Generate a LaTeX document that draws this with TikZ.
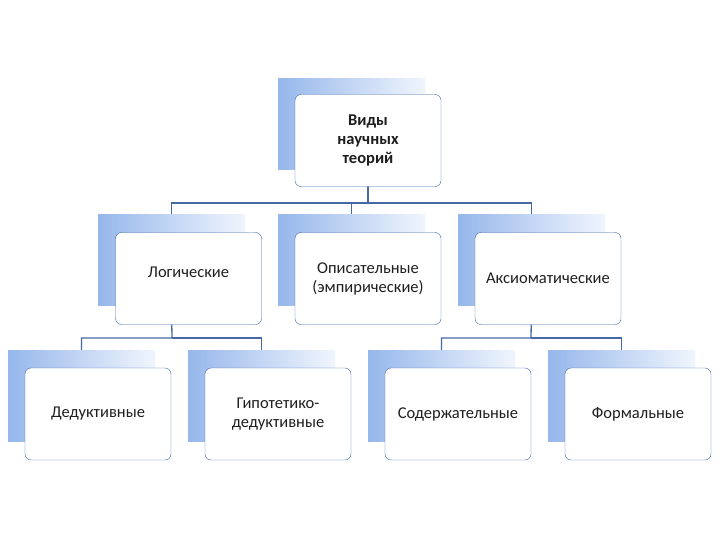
\documentclass[tikz,border=0pt]{standalone}
\usepackage{fontspec}
\setmainfont{Carlito}
\begin{document}
\begin{tikzpicture}[x=1pt,y=-1pt,
 back/.style={minimum width=147pt,minimum height=91pt,inner sep=0pt,draw=none,left color={rgb,255:red,150;green,183;blue,235},right color={rgb,255:red,240;green,245;blue,253}},
 front/.style={minimum width=146pt,minimum height=92pt,inner sep=2pt,draw={rgb,255:red,60;green,100;blue,170},fill=white,rounded corners=6pt,text width=140pt,align=center,font=\fontsize{16.5}{19}\selectfont,text={rgb,255:red,30;green,30;blue,30}},
 conn/.style={draw={rgb,255:red,70;green,105;blue,165},line width=1.3pt}]
\useasboundingbox (0,0) rectangle (720,540);
% back rects
\node[back] (b0) at (351.5,124) {};
\node[back] (b1) at (171.5,260) {};
\node[back] (b2) at (351.5,260) {};
\node[back] (b3) at (531.5,260) {};
\node[back] (b4) at (81.5,396) {};
\node[back] (b5) at (261.5,396) {};
\node[back] (b6) at (441.5,396) {};
\node[back] (b7) at (621.5,396) {};
% connectors
\coordinate (j0) at (368,203);
\coordinate (j1) at (172,338);
\coordinate (j3) at (531,338);
\draw[conn] (b0.south -| j0) -- (j0) -| (b1.north);
\draw[conn] (j0) -| (b3.north);
\draw[conn] (j0) -| (b2.north);
\draw[conn] (b1.south) -- (j1) -| (b4.north);
\draw[conn] (j1) -| (b5.north);
\draw[conn] (b3.south) -- (j3) -| (b6.north);
\draw[conn] (j3) -| (b7.north);
% redraw backs over line ends
\foreach \x/\y in {351.5/124,171.5/260,351.5/260,531.5/260,81.5/396,261.5/396,441.5/396,621.5/396}
  \node[back] at (\x,\y) {};
% fronts
\node[front,font=\fontsize{16.5}{19}\selectfont\bfseries] (f0) at (368,140.5) {Виды\\научных\\теорий};
\node[front] (f1) at (188.5,278.5) {\raisebox{12pt}{Логические}};
\node[front] (f2) at (368,278.5) {Описательные\\(эмпирические)};
\node[front] (f3) at (548,278.5) {Аксиоматические};
\node[front] (f4) at (98,414) {Дедуктивные};
\node[front] (f5) at (278,414) {Гипотетико-\\дедуктивные};
\node[front] (f6) at (458,414) {Содержательные};
\node[front] (f7) at (638,414) {Формальные};
\end{tikzpicture}
\end{document}
